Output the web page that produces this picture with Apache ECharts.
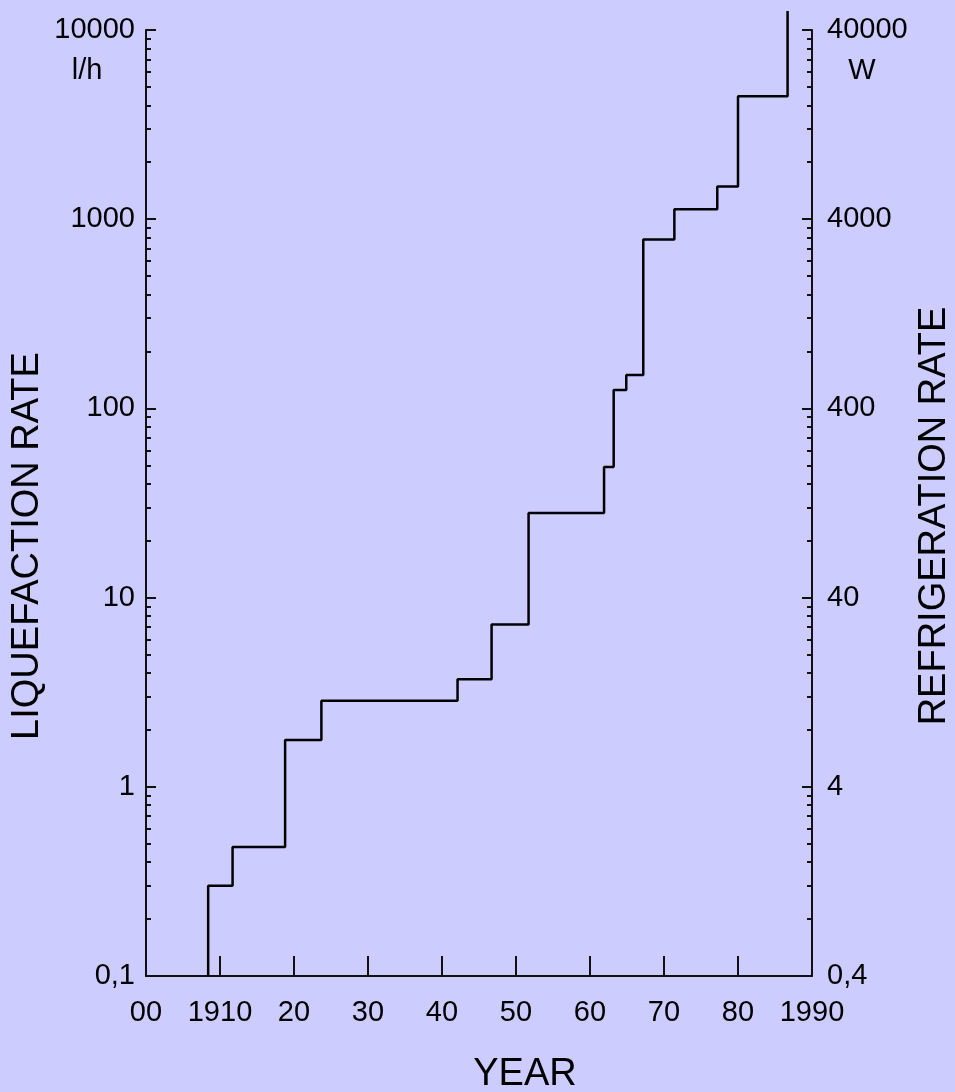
<!DOCTYPE html>
<html>
<head>
<meta charset="utf-8">
<script src="https://cdn.jsdelivr.net/npm/echarts@6/dist/echarts.min.js"></script>
<style>
  html, body { margin: 0; padding: 0; background: #ccccff; }
  #main { width: 955px; height: 1092px; }
</style>
</head>
<body>
<div id="main"></div>
<script>
  // years at which the liquefaction rate jumped
  var stepYears = [1908.4, 1911.7, 1918.8, 1923.7, 1942.1, 1946.7, 1951.7, 1961.9,
                   1963.2, 1964.9, 1967.2, 1971.4, 1977.2, 1980.0, 1986.7];
  // rate reached at each jump (l/h)
  var stepRates = [0.3, 0.48, 1.77, 2.85, 3.7, 7.2, 28, 49,
                   125, 150, 780, 1130, 1490, 4470, 12600];
  var startRate = 0.1;

  var decadeValues = [0.1, 1, 10, 100, 1000, 10000];
  var leftTickLabels = ['0,1', '1', '10', '100', '1000', '10000'];
  var rightTickLabels = ['0,4', '4', '40', '400', '4000', '40000'];
  var yearTickLabels = ['00', '1910', '20', '30', '40', '50', '60', '70', '80', '1990'];
  var minorSteps = [2, 3, 4, 5, 6, 7, 8, 9];

  var font = 'Liberation Sans, Arial, sans-serif';
  var ink = '#111';

  // minor ticks between the decades
  var minorValues = [];
  for (var d = 0; d < decadeValues.length - 1; d++) {
    for (var m = 0; m < minorSteps.length; m++) {
      minorValues.push(+(decadeValues[d] * minorSteps[m]).toPrecision(6));
    }
  }

  // step line points
  var lineData = [[stepYears[0], startRate]];
  for (var i = 0; i < stepYears.length; i++) {
    lineData.push([stepYears[i], stepRates[i]]);
  }

  function decadeIndex(v) {
    return Math.round(Math.log(v) / Math.LN10) + 1;
  }

  function logAxis(position, major, labels, margin) {
    return {
      type: 'log',
      logBase: 10,
      position: position,
      min: 0.1,
      max: 10000,
      splitNumber: 5,
      axisLine: { show: major, lineStyle: { color: ink, width: 2 } },
      axisTick: major
        ? { show: true, inside: true, length: 10, lineStyle: { color: ink, width: 2 } }
        : { show: true, inside: true, length: 5, customValues: minorValues, lineStyle: { color: ink, width: 2 } },
      axisLabel: {
        show: major,
        margin: margin,
        fontSize: 29,
        color: '#000',
        fontFamily: font,
        formatter: function (v) { return labels[decadeIndex(v)]; }
      },
      splitLine: { show: false }
    };
  }

  var myChart = echarts.init(document.getElementById('main'));
  myChart.setOption({
    backgroundColor: '#ccccff',
    animation: false,
    grid: { left: 146, top: 30, width: 666, height: 946 },
    xAxis: {
      type: 'value',
      min: 1900,
      max: 1990,
      interval: 10,
      axisLine: { lineStyle: { color: ink, width: 2 } },
      axisTick: { inside: true, length: 20, lineStyle: { color: ink, width: 2 } },
      axisLabel: {
        margin: 22,
        fontSize: 29,
        color: '#000',
        fontFamily: font,
        showMinLabel: true,
        showMaxLabel: true,
        formatter: function (v) { return yearTickLabels[Math.round((v - 1900) / 10)]; }
      },
      splitLine: { show: false }
    },
    yAxis: [
      logAxis('left', true, leftTickLabels, 11),
      logAxis('left', false, leftTickLabels, 11),
      logAxis('right', true, rightTickLabels, 15),
      logAxis('right', false, rightTickLabels, 15)
    ],
    graphic: [
      { type: 'text', x: 28, y: 546, rotation: Math.PI / 2,
        style: { text: 'LIQUEFACTION RATE', fontSize: 38, fontFamily: font, fill: '#000', textAlign: 'center', textVerticalAlign: 'middle' } },
      { type: 'text', x: 935, y: 516, rotation: Math.PI / 2,
        style: { text: 'REFRIGERATION RATE', fontSize: 38, fontFamily: font, fill: '#000', textAlign: 'center', textVerticalAlign: 'middle' } },
      { type: 'text', x: 525, y: 1075,
        style: { text: 'YEAR', fontSize: 38, fontFamily: font, fill: '#000', textAlign: 'center', textVerticalAlign: 'middle' } },
      { type: 'text', x: 87, y: 71,
        style: { text: 'l/h', fontSize: 29, fontFamily: font, fill: '#000', textAlign: 'center', textVerticalAlign: 'middle' } },
      { type: 'text', x: 862, y: 71,
        style: { text: 'W', fontSize: 29, fontFamily: font, fill: '#000', textAlign: 'center', textVerticalAlign: 'middle' } }
    ],
    series: [{
      name: 'rate',
      type: 'line',
      step: 'end',
      showSymbol: false,
      clip: false,
      xAxisIndex: 0,
      yAxisIndex: 0,
      lineStyle: { color: '#000', width: 2.5 },
      data: lineData
    }]
  });
</script>
</body>
</html>
